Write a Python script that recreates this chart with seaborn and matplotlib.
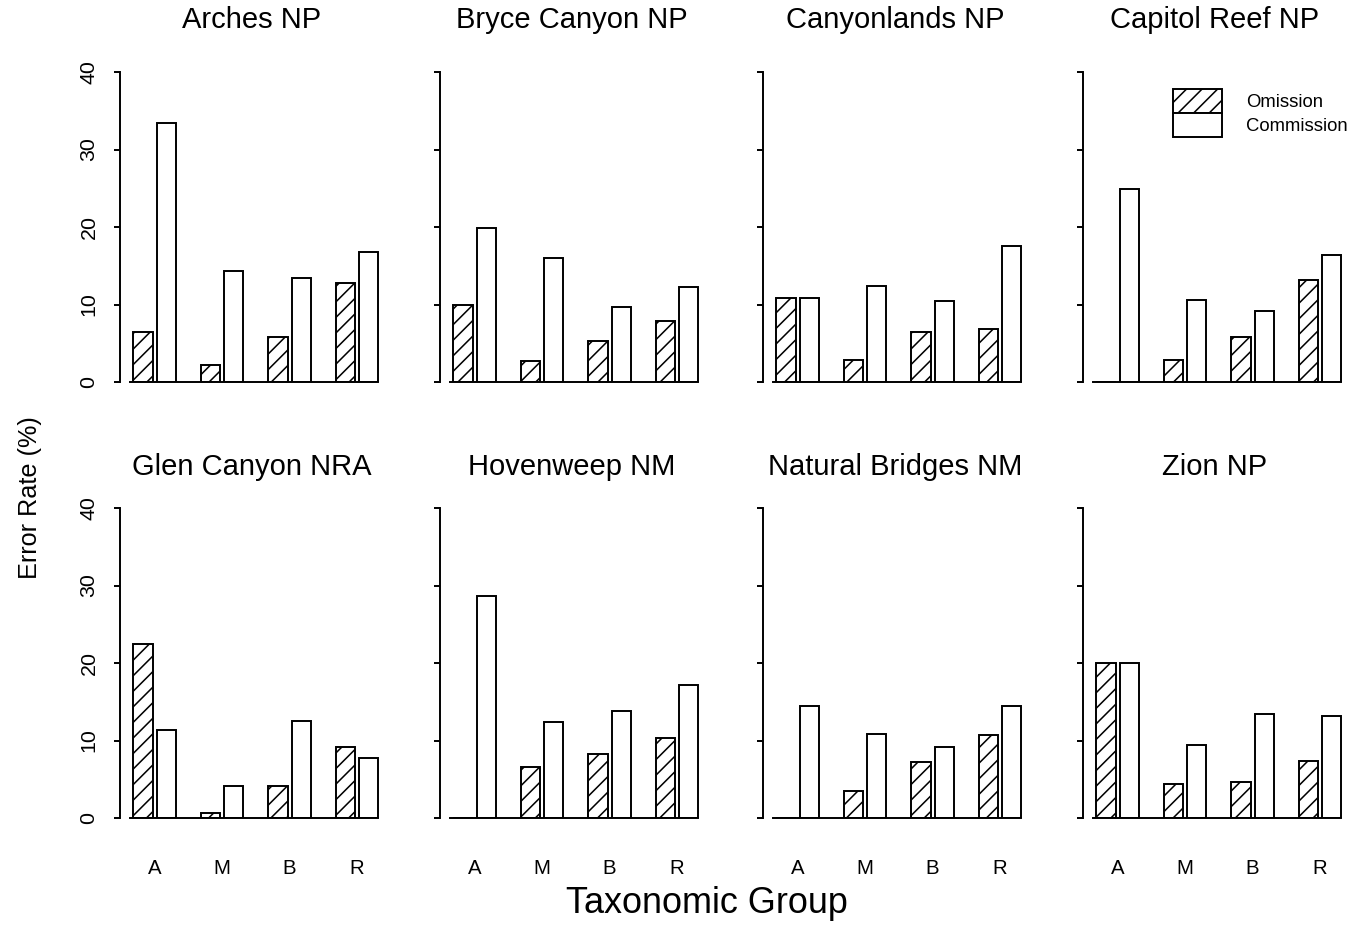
import matplotlib
matplotlib.use('Agg')
import matplotlib.pyplot as plt
from matplotlib.patches import Patch
import seaborn as sns
import pandas as pd

parks = ['Arches NP', 'Bryce Canyon NP', 'Canyonlands NP', 'Capitol Reef NP',
         'Glen Canyon NRA', 'Hovenweep NM', 'Natural Bridges NM', 'Zion NP']
groups = ['A', 'M', 'B', 'R']
types = ['Omission', 'Commission']

# error rates (%) per park, in the order of groups
omission = [
    [6.5, 2.2, 5.8, 12.8],
    [9.9, 2.7, 5.3, 7.9],
    [10.9, 2.9, 6.5, 6.8],
    [0.0, 2.8, 5.8, 13.1],
    [22.4, 0.7, 4.1, 9.1],
    [0.0, 6.6, 8.2, 10.3],
    [0.0, 3.5, 7.2, 10.7],
    [20.0, 4.4, 4.6, 7.3],
]
commission = [
    [33.4, 14.3, 13.4, 16.8],
    [19.9, 16.0, 9.7, 12.2],
    [10.9, 12.4, 10.4, 17.5],
    [24.9, 10.6, 9.1, 16.4],
    [11.3, 4.1, 12.5, 7.7],
    [28.7, 12.4, 13.8, 17.2],
    [14.5, 10.8, 9.2, 14.4],
    [20.0, 9.4, 13.4, 13.2],
]

rows = []
for p, park in enumerate(parks):
    for g, grp in enumerate(groups):
        rows.append((park, grp, 'Omission', omission[p][g]))
        rows.append((park, grp, 'Commission', commission[p][g]))
df = pd.DataFrame(rows, columns=['park', 'group', 'type', 'rate'])

sns.set_theme(style='ticks', rc={'text.color': 'black', 'axes.labelcolor': 'black',
                                 'xtick.color': 'black', 'ytick.color': 'black',
                                 'axes.edgecolor': 'black'})
plt.rcParams['font.family'] = ['Liberation Sans', 'DejaVu Sans']
plt.rcParams['hatch.linewidth'] = 0.8

W, H, DPI = 1364, 926, 140
fig = plt.figure(figsize=(W / DPI, H / DPI), dpi=DPI)

col_left = [120, 440, 763, 1083]
row_bottom = [382, 818]
ax_w = 264 / W
ax_h = 310 / H

for i, park in enumerate(parks):
    r, c = divmod(i, 4)
    ax = fig.add_axes([col_left[c] / W, 1 - row_bottom[r] / H, ax_w, ax_h])
    sub = df[df['park'] == park]
    sns.barplot(data=sub, x='group', y='rate', hue='type', order=groups,
                hue_order=types, palette=['white', 'white'], edgecolor='black',
                linewidth=1.0, width=0.69, gap=0.17, errorbar=None,
                legend=False, ax=ax)
    for bar in ax.containers[0]:
        bar.set_hatch('///')

    ax.set_xlim(-0.515, 3.4)
    ax.set_ylim(0, 40)
    ax.set_yticks([0, 10, 20, 30, 40])
    ax.set_xlabel('')
    ax.set_ylabel('')
    for s in ['top', 'right']:
        ax.spines[s].set_visible(False)
    ax.spines['left'].set_bounds(0, 40)
    ax.spines['bottom'].set_bounds(-0.37, 3.31)
    ax.spines['left'].set_linewidth(1.0)
    ax.spines['bottom'].set_linewidth(1.0)

    ax.tick_params(axis='y', length=3, width=1.0, pad=8, labelsize=11)
    ax.tick_params(axis='x', length=0, pad=21, labelsize=10.5)
    if c == 0:
        ax.set_yticklabels(['0', '10', '20', '30', '40'], rotation=90, va='center')
    else:
        ax.tick_params(axis='y', labelleft=False)
    if r == 0:
        ax.tick_params(axis='x', labelbottom=False)

    ax.set_title(park, fontsize=15, pad=22.5 if r == 0 else 17)

fig.text(30 / W, 1 - 498 / H, 'Error Rate (%)', rotation=90, ha='center',
         va='center', fontsize=13)
fig.text(707 / W, 1 - 913 / H, 'Taxonomic Group', ha='center', va='baseline',
         fontsize=18.5)

handles = [Patch(facecolor='white', edgecolor='black', hatch='///', label='Omission'),
           Patch(facecolor='white', edgecolor='black', label='Commission')]
fig.legend(handles=handles, loc='upper left', bbox_to_anchor=(1173 / W, 1 - 89 / H),
           frameon=False, fontsize=9.5, handlelength=2.65, handleheight=1.62,
           handletextpad=1.3, labelspacing=0.0, borderpad=0, borderaxespad=0)

fig.savefig('out.png', dpi=DPI)
